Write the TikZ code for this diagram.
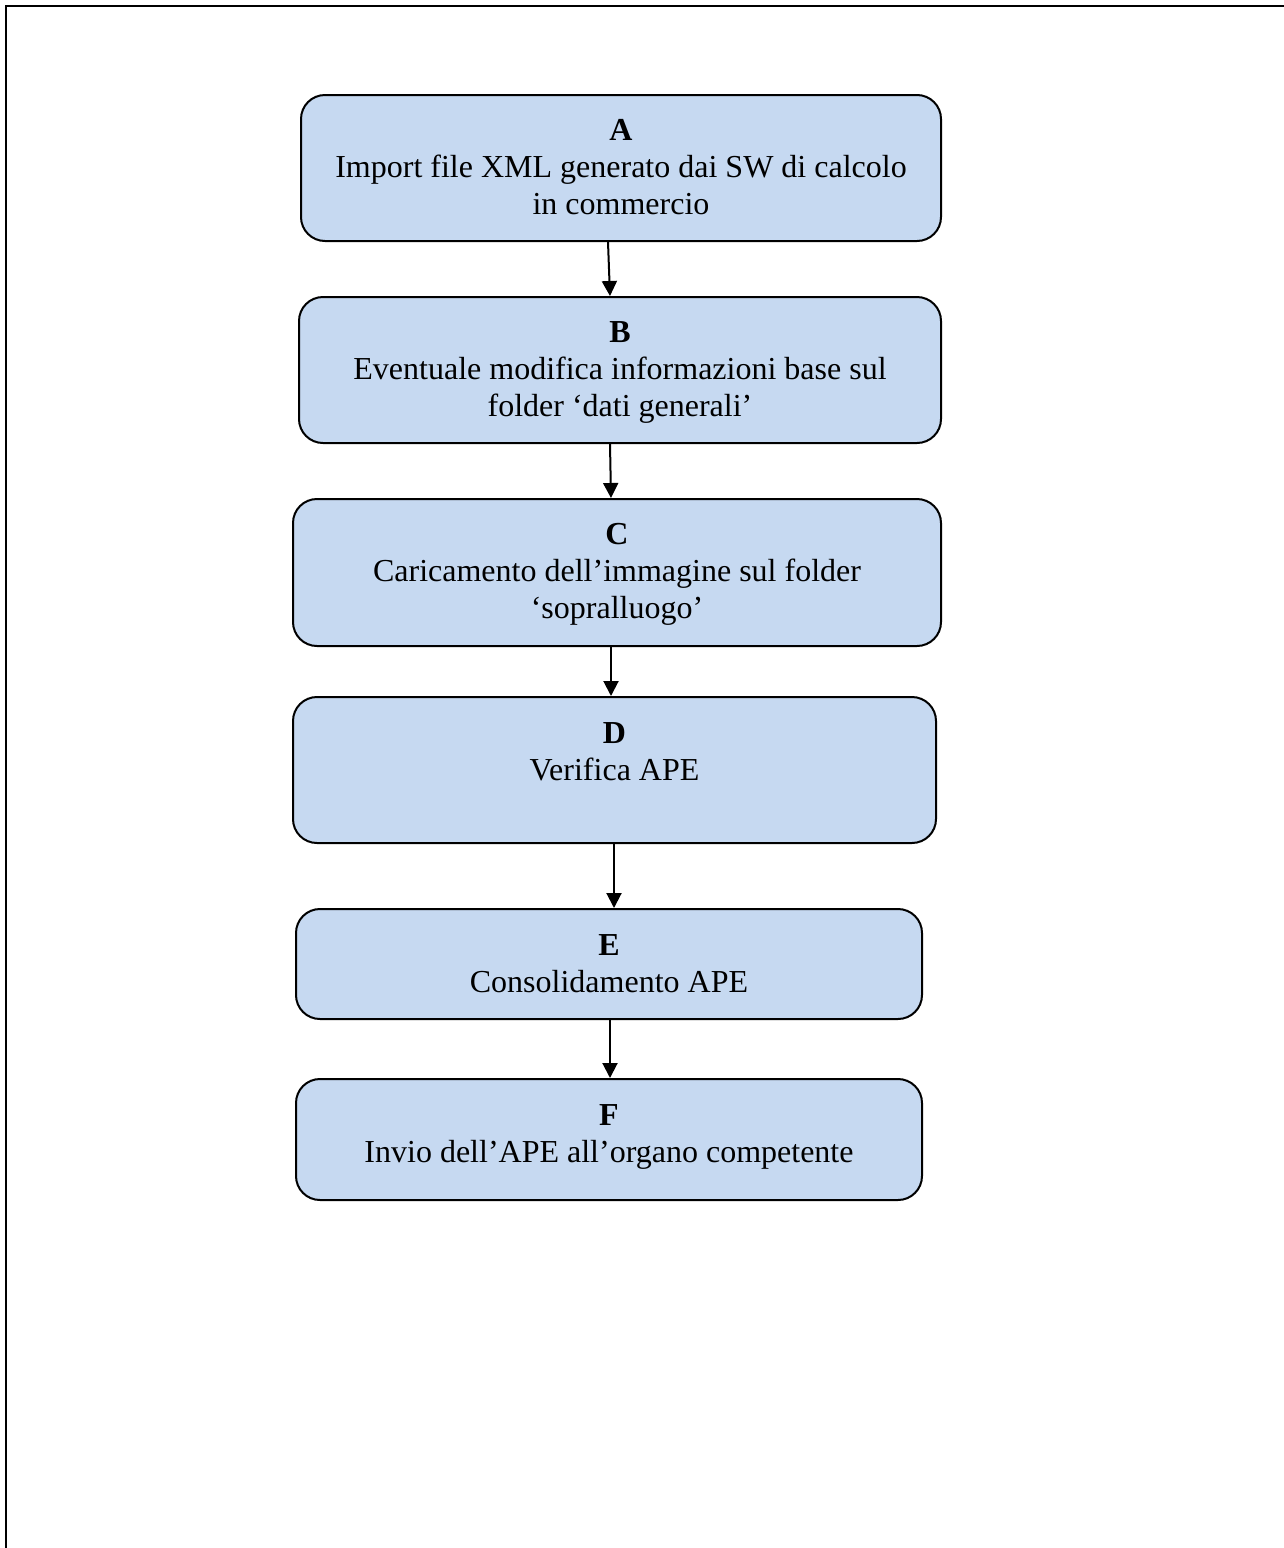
\documentclass[tikz,border=0pt]{standalone}
\usepackage{fontspec}
\setmainfont{Liberation Serif}
\usetikzlibrary{arrows.meta,calc}
\definecolor{boxblue}{HTML}{C6D9F1}
\begin{document}
\begin{tikzpicture}[x=1pt,y=-1pt,
  stepbox/.style={draw=black, line width=2pt, fill=boxblue, rounded corners=24pt, inner sep=0pt},
  lbl/.style={align=center, inner sep=0pt, font=\fontsize{32}{37}\selectfont, anchor=base},
  arr/.style={line width=2pt, -{Triangle[width=15pt,length=15pt]}},
  framestyle/.style={line width=2.2pt}]
\useasboundingbox (0,0) rectangle (1284,1548);
\draw[framestyle] (1284,5.7) -- (6.2,5.7) -- (6.2,1548);

\node[stepbox, minimum width=640pt, minimum height=146pt] (A) at (621,168) {};
\node[stepbox, minimum width=642pt, minimum height=146pt] (B) at (620,370) {};
\node[stepbox, minimum width=648pt, minimum height=147pt] (C) at (617,572.5) {};
\node[stepbox, minimum width=643pt, minimum height=146pt] (D) at (614.5,770) {};
\node[stepbox, minimum width=626pt, minimum height=110pt] (E) at (609,964) {};
\node[stepbox, minimum width=626pt, minimum height=121pt] (F) at (609,1139.5) {};

% base anchor = baseline of the last line
\node[lbl] (tA) at ([yshift=-120pt]A.north) {\textbf{A}\\Import file XML generato dai SW di calcolo\\in commercio};
\node[lbl] (tB) at ([yshift=-120pt]B.north) {\textbf{B}\\Eventuale modifica informazioni base sul\\folder ‘dati generali’};
\node[lbl] (tC) at ([yshift=-120pt]C.north) {\textbf{C}\\Caricamento dell’immagine sul folder\\‘sopralluogo’};
\node[lbl] (tD) at ([yshift=-84pt]D.north) {\textbf{D}\\Verifica APE};
\node[lbl] (tE) at ([yshift=-84pt]E.north) {\textbf{E}\\Consolidamento APE};
\node[lbl] (tF) at ([yshift=-84pt]F.north) {\textbf{F}\\Invio dell’APE all’organo competente};

\draw[arr] ([xshift=-13pt]A.south) -- ([xshift=-10pt]B.north);
\draw[arr] ([xshift=-10pt]B.south) -- ([xshift=-6pt]C.north);
\draw[arr] ([xshift=-6pt]C.south) -- ([xshift=-3.5pt]D.north);
\draw[arr] ([xshift=-0.5pt]D.south) -- ([xshift=5pt]E.north);
\draw[arr] ([xshift=1pt]E.south) -- ([xshift=1pt]F.north);
\end{tikzpicture}
\end{document}
